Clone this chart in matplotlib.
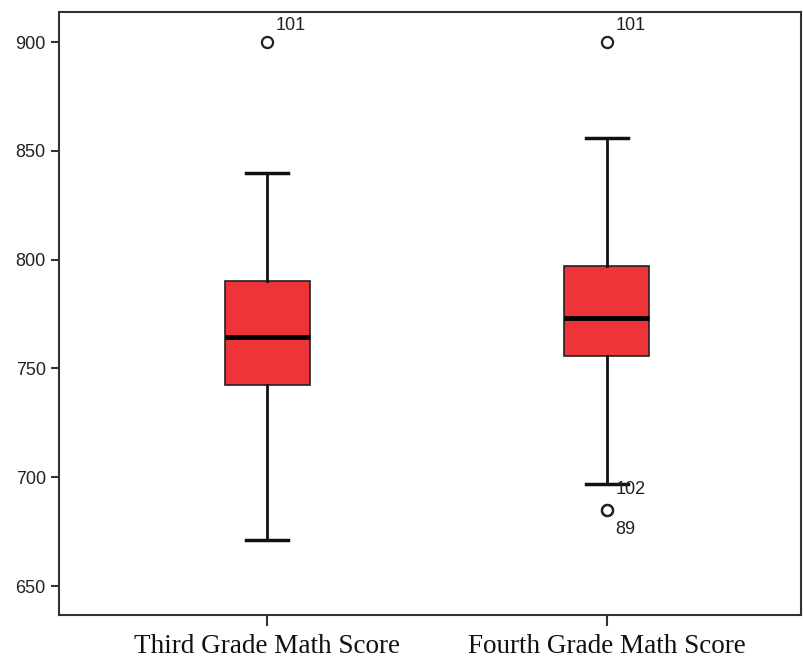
import matplotlib.pyplot as plt

categories = ["Third Grade Math Score", "Fourth Grade Math Score"]
whisker_low = [671, 697]
q1 = [742.5, 755.5]
median = [764.5, 773]
q3 = [790, 797]
whisker_high = [840, 856]
outliers = [[900], [900, 685, 685]]
outlier_ids = [["101"], ["101", "102", "89"]]
# label offsets in points (dx, dy) for each outlier id
label_offsets = [[(6, 12)], [(6, 12), (6, 15), (6, -14)]]

stats = []
for i, name in enumerate(categories):
    stats.append({
        "label": name,
        "whislo": whisker_low[i],
        "q1": q1[i],
        "med": median[i],
        "q3": q3[i],
        "whishi": whisker_high[i],
        "fliers": outliers[i],
    })

fig = plt.figure(figsize=(8.04, 6.6), dpi=100)
ax = fig.add_axes([59 / 804, 45 / 660, 742 / 804, 603 / 660])

ax.bxp(
    stats,
    positions=[1, 2],
    widths=0.25,
    patch_artist=True,
    boxprops=dict(facecolor="#ee3339", edgecolor="#222222", linewidth=1.2),
    medianprops=dict(color="black", linewidth=3.5),
    whiskerprops=dict(color="#111111", linewidth=2),
    capprops=dict(color="#111111", linewidth=2.5),
    capwidths=0.125,
    flierprops=dict(marker="o", markersize=8, markerfacecolor="none",
                    markeredgecolor="#222222", markeredgewidth=1.6),
)

for i in range(len(categories)):
    for val, lab, off in zip(outliers[i], outlier_ids[i], label_offsets[i]):
        ax.annotate(lab, (i + 1, val), xytext=off, textcoords="offset points",
                    ha="left", va="center", fontsize=13,
                    family="Liberation Sans", color="#222222")

ax.set_xlim(0.388, 2.571)
ax.set_ylim(636.7, 913.8)
ax.set_yticks([650, 700, 750, 800, 850, 900])
ax.set_xticks([1, 2])
ax.set_xticklabels(categories, family="Liberation Serif", fontsize=19.5)
for lab in ax.get_yticklabels():
    lab.set_family("Liberation Sans")
    lab.set_fontsize(13)
ax.tick_params(axis="y", length=6, width=1.5, color="#333333", labelcolor="#222222")
ax.tick_params(axis="x", length=8, width=1.5, color="#333333", labelcolor="#111111", pad=6)
for sp in ax.spines.values():
    sp.set_linewidth(1.5)
    sp.set_color("#333333")

fig.savefig("out.png", dpi=100)
